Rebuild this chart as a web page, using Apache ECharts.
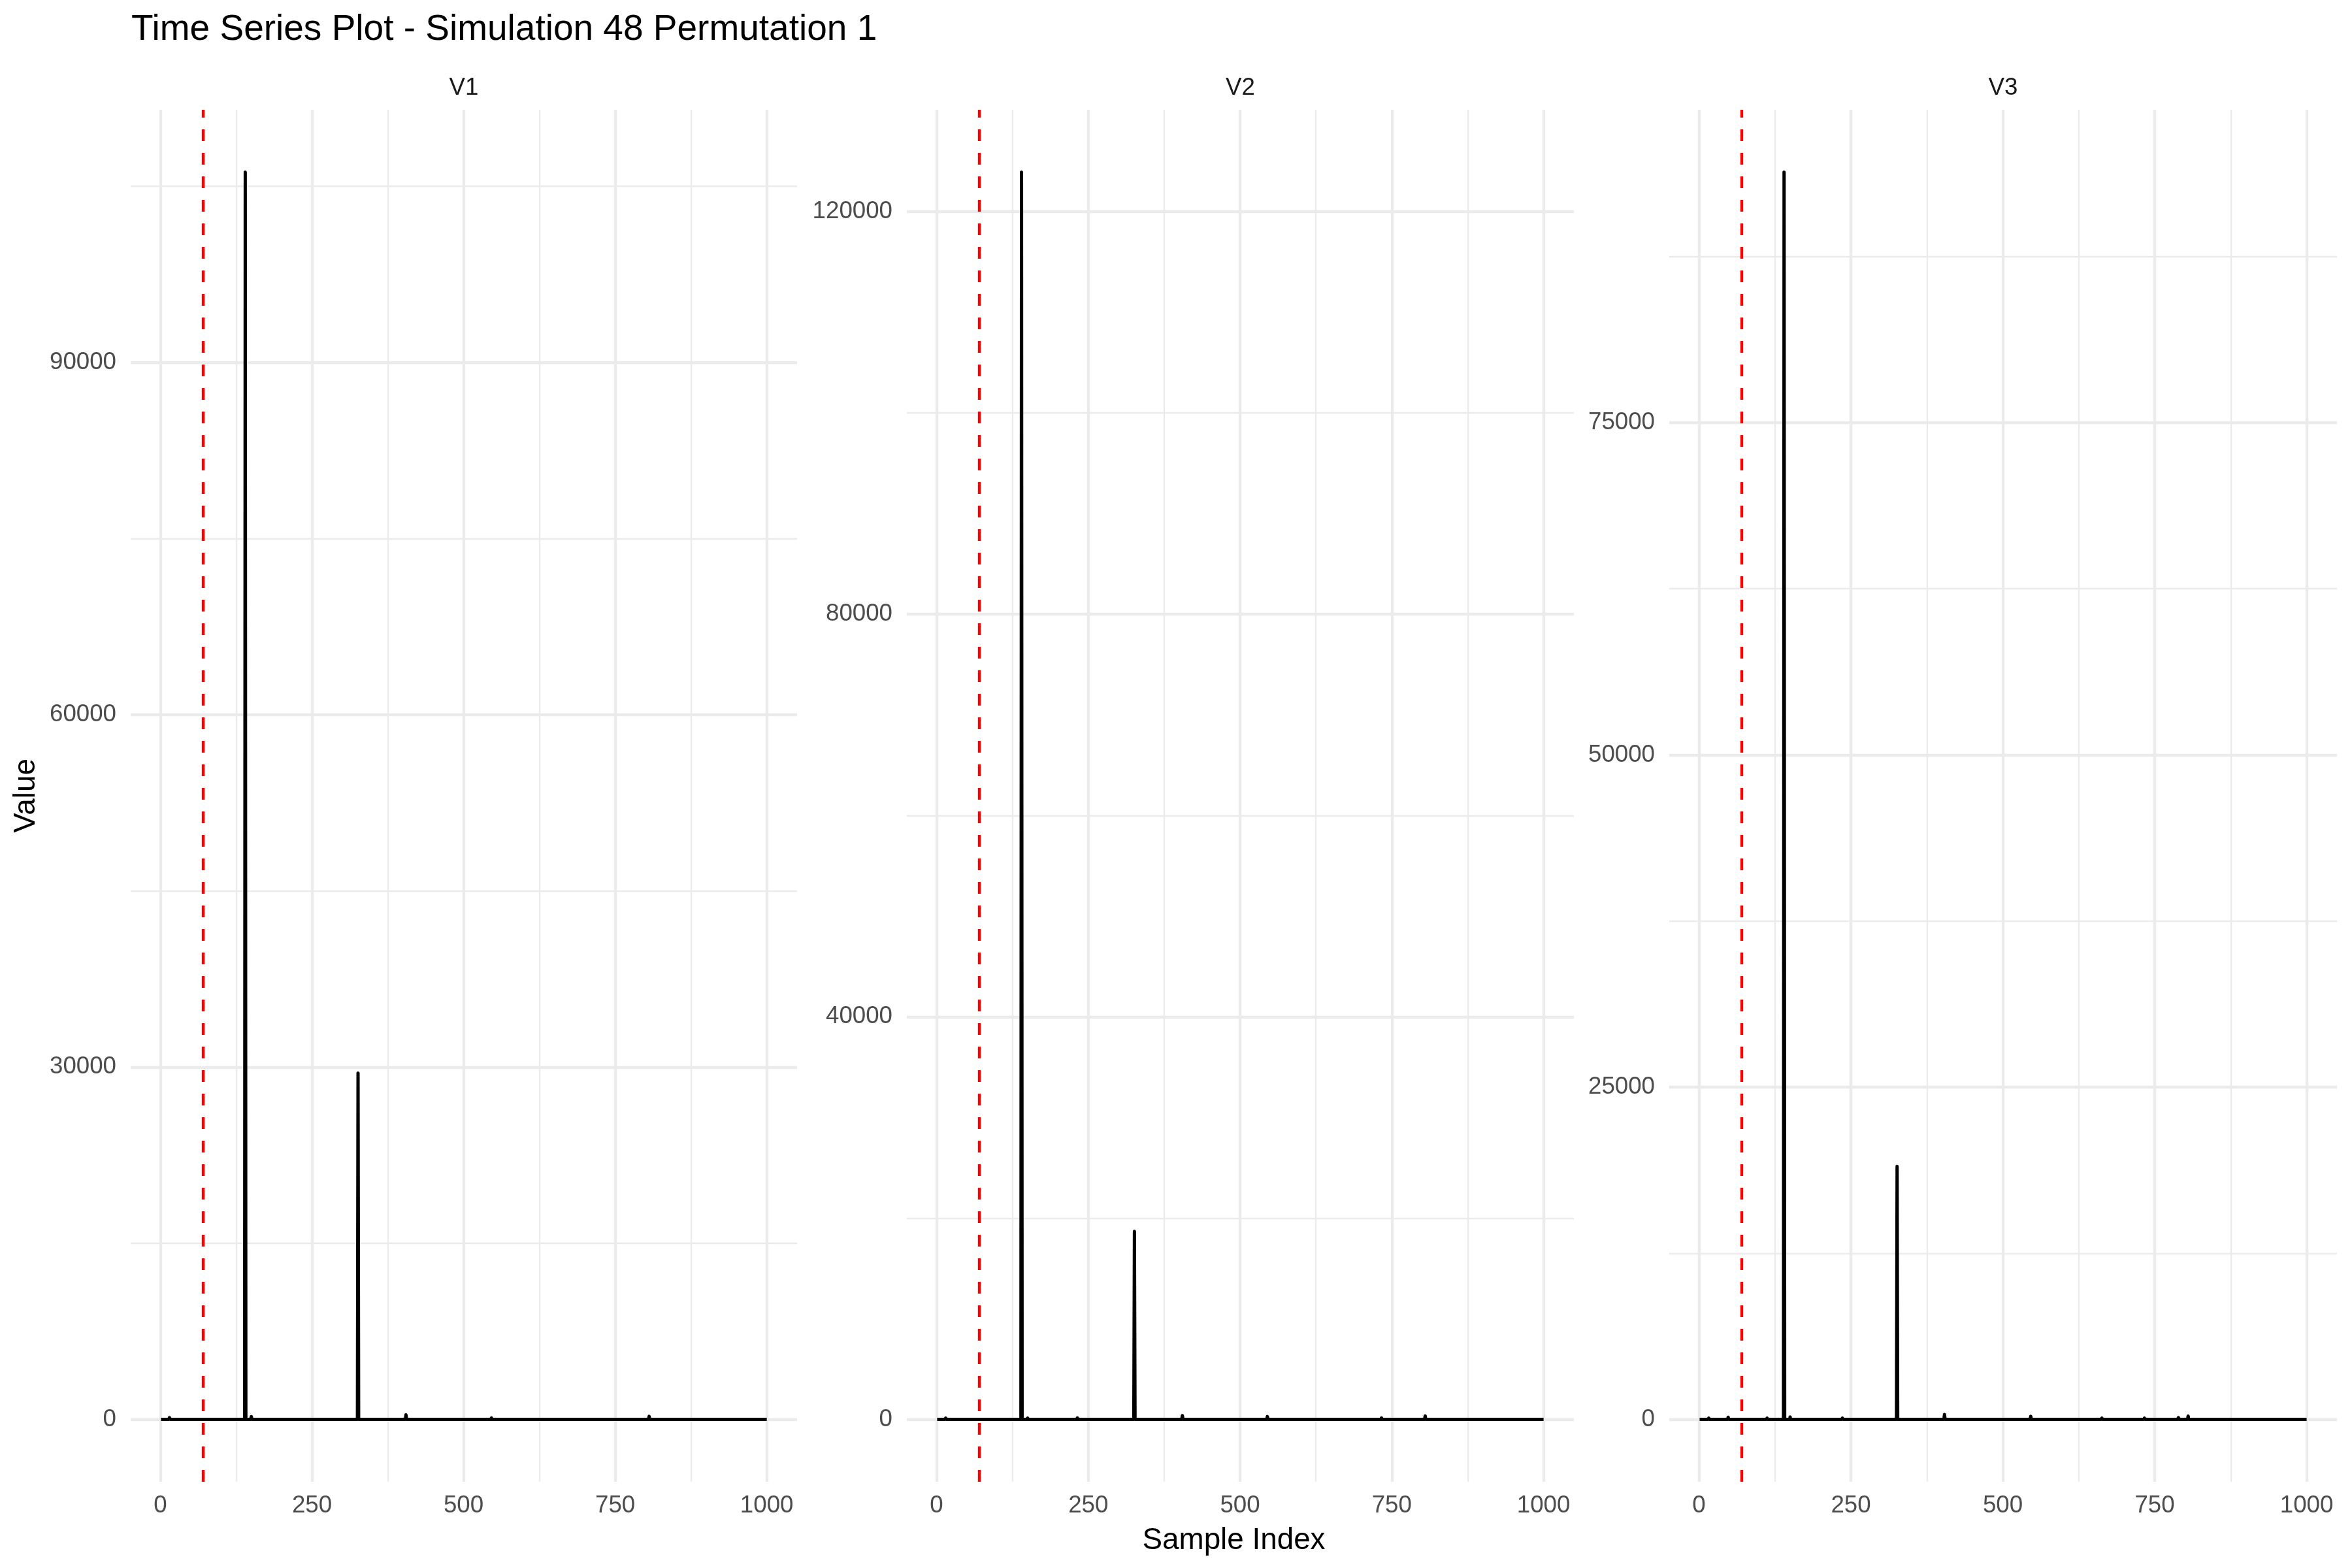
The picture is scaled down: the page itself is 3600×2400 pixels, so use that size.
<!DOCTYPE html>
<html>
<head>
<meta charset="utf-8">
<title>Time Series Plot - Simulation 48 Permutation 1</title>
<script src="https://cdn.jsdelivr.net/npm/echarts@6/dist/echarts.min.js"></script>
<style>
html, body { margin: 0; padding: 0; background: #fff; }
#main { width: 3600px; height: 2400px; }
</style>
</head>
<body>
<div id="main"></div>
<script>
var chartTitle = 'Time Series Plot - Simulation 48 Permutation 1';
var panelNames = ['V1', 'V2', 'V3'];
var xTitle = 'Sample Index';
var yTitle = 'Value';

var v1Index = [1, 14, 15, 16, 33, 34, 35, 47, 48, 49, 111, 112, 113, 139, 140, 141, 149, 150, 151,
    233, 234, 235, 237, 238, 239, 325, 326, 327, 404, 405, 406, 439, 440, 441, 462, 463, 464,
    476, 477, 478, 545, 546, 547, 661, 662, 663, 733, 734, 735, 787, 788, 789, 805, 806, 807, 1000];
var v1Value = [0, 0, 150, 0, 0, 70, 0, 0, 50, 0, 0, 60, 0, 0, 106200, 0, 0, 240, 0,
    0, 90, 0, 0, 110, 0, 0, 29480, 0, 0, 390, 0, 0, 40, 0, 0, 60, 0,
    0, 60, 0, 0, 120, 0, 0, 70, 0, 0, 100, 0, 0, 60, 0, 0, 260, 0, 0];

var v2Index = [1, 14, 15, 16, 139, 140, 141, 149, 150, 151, 231, 232, 233, 325, 326, 327,
    404, 405, 406, 463, 464, 465, 476, 477, 478, 544, 545, 546, 660, 661, 662,
    732, 733, 734, 789, 790, 791, 804, 805, 806, 1000];
var v2Value = [0, 0, 130, 0, 0, 123930, 0, 0, 130, 0, 0, 150, 0, 0, 18690, 0,
    0, 375, 0, 0, 70, 0, 0, 80, 0, 0, 290, 0, 0, 90, 0,
    0, 150, 0, 0, 90, 0, 0, 350, 0, 0];

var v3Index = [1, 15, 16, 17, 33, 34, 35, 47, 48, 49, 111, 112, 113, 139, 140, 141, 149, 150, 151,
    235, 236, 237, 325, 326, 327, 403, 404, 405, 462, 463, 464, 476, 477, 478, 545, 546, 547,
    662, 663, 664, 732, 733, 734, 750, 751, 752, 788, 789, 790, 804, 805, 806, 1000];
var v3Value = [0, 0, 100, 0, 0, 60, 0, 0, 165, 0, 0, 100, 0, 0, 93850, 0, 0, 180, 0,
    0, 100, 0, 0, 19040, 0, 0, 370, 0, 0, 60, 0, 0, 70, 0, 0, 230, 0,
    0, 100, 0, 0, 100, 0, 0, 60, 0, 0, 130, 0, 0, 250, 0, 0];

var changePoint = 70;

var xMajorTicks = [0, 250, 500, 750, 1000];
var xMinorTicks = [125, 375, 625, 875];
var v1MajorTicks = [0, 30000, 60000, 90000];
var v1MinorTicks = [15000, 45000, 75000, 105000];
var v2MajorTicks = [0, 40000, 80000, 120000];
var v2MinorTicks = [20000, 60000, 100000];
var v3MajorTicks = [0, 25000, 50000, 75000];
var v3MinorTicks = [12500, 37500, 62500, 87500];

var FONT = '"Liberation Sans", Helvetica, Arial, sans-serif';

function expandRange(arr) {
    var lo = Math.min.apply(null, arr);
    var hi = Math.max.apply(null, arr);
    var d = (hi - lo) * 0.05;
    return [lo - d, hi + d];
}

function plainLabel(v) {
    return String(v);
}

function makeAxis(range, majorVals, minorVals, isMajor, gridIndex, isX) {
    var axis = {
        type: 'value',
        gridIndex: gridIndex,
        min: range[0],
        max: range[1],
        axisLine: { show: false },
        axisTick: { show: false, customValues: isMajor ? majorVals : minorVals },
        axisLabel: { show: false },
        splitLine: {
            show: true,
            lineStyle: { color: '#EBEBEB', width: isMajor ? 4.4 : 2.3, type: 'solid' }
        },
        minorSplitLine: { show: false }
    };
    if (isMajor) {
        axis.axisLabel = {
            show: true,
            customValues: majorVals,
            formatter: plainLabel,
            color: '#4D4D4D',
            fontSize: 36.7,
            fontFamily: FONT,
            margin: isX ? 18 : 22,
            showMinLabel: true,
            showMaxLabel: true,
            hideOverlap: false
        };
    }
    if (isX) axis.position = 'bottom';
    else axis.position = 'left';
    return axis;
}

var panelLeft = [200, 1388, 2555];
var panelWidth = [1020, 1021, 1022];
var panelTop = 168;
var panelHeight = 2100;

var indexes = [v1Index, v2Index, v3Index];
var values = [v1Value, v2Value, v3Value];
var yMajor = [v1MajorTicks, v2MajorTicks, v3MajorTicks];
var yMinor = [v1MinorTicks, v2MinorTicks, v3MinorTicks];

var option = {
    backgroundColor: '#ffffff',
    animation: false,
    grid: [],
    xAxis: [],
    yAxis: [],
    series: [],
    graphic: []
};

for (var i = 0; i < panelNames.length; i++) {
    option.grid.push({
        left: panelLeft[i],
        top: panelTop,
        width: panelWidth[i],
        height: panelHeight,
        containLabel: false,
        outerBoundsMode: 'none'
    });
    var xr = expandRange(indexes[i]);
    var yr = expandRange(values[i]);
    // major axis first (2*i), minor helper axis second (2*i+1)
    option.xAxis.push(makeAxis(xr, xMajorTicks, xMinorTicks, true, i, true));
    option.xAxis.push(makeAxis(xr, xMajorTicks, xMinorTicks, false, i, true));
    option.yAxis.push(makeAxis(yr, yMajor[i], yMinor[i], true, i, false));
    option.yAxis.push(makeAxis(yr, yMajor[i], yMinor[i], false, i, false));

    var pts = [];
    for (var j = 0; j < indexes[i].length; j++) {
        pts.push([indexes[i][j], values[i][j]]);
    }
    option.series.push({
        name: panelNames[i],
        type: 'line',
        xAxisIndex: 2 * i,
        yAxisIndex: 2 * i,
        data: pts,
        showSymbol: false,
        symbol: 'none',
        silent: true,
        emphasis: { disabled: true },
        lineStyle: { color: '#000000', width: 5, join: 'round', cap: 'butt' },
        markLine: {
            silent: true,
            symbol: ['none', 'none'],
            label: { show: false },
            emphasis: { disabled: true },
            lineStyle: { color: '#FF0000', width: 4.4, type: [18, 18] },
            data: [{ xAxis: changePoint }]
        },
        z: 3
    });

    // facet strip label
    option.graphic.push({
        type: 'text',
        x: panelLeft[i] + panelWidth[i] / 2,
        y: 135,
        style: {
            text: panelNames[i],
            fill: '#1A1A1A',
            font: '36.7px ' + FONT,
            textAlign: 'center',
            textVerticalAlign: 'middle',
            align: 'center',
            verticalAlign: 'middle'
        }
    });
}

option.graphic.push({
    type: 'text',
    x: 201,
    y: 46,
    style: {
        text: chartTitle,
        fill: '#000000',
        font: '55px ' + FONT,
        textAlign: 'left',
        textVerticalAlign: 'middle',
        align: 'left',
        verticalAlign: 'middle'
    }
});
option.graphic.push({
    type: 'text',
    x: (panelLeft[0] + panelLeft[2] + panelWidth[2]) / 2,
    y: 2358,
    style: {
        text: xTitle,
        fill: '#000000',
        font: '45.8px ' + FONT,
        textAlign: 'center',
        textVerticalAlign: 'middle',
        align: 'center',
        verticalAlign: 'middle'
    }
});
option.graphic.push({
    type: 'text',
    x: 40,
    y: panelTop + panelHeight / 2,
    rotation: Math.PI / 2,
    style: {
        text: yTitle,
        fill: '#000000',
        font: '45.8px ' + FONT,
        textAlign: 'center',
        textVerticalAlign: 'middle',
        align: 'center',
        verticalAlign: 'middle'
    }
});

var chart = echarts.init(document.getElementById('main'), null, { renderer: 'canvas' });
chart.setOption(option);
</script>
</body>
</html>
